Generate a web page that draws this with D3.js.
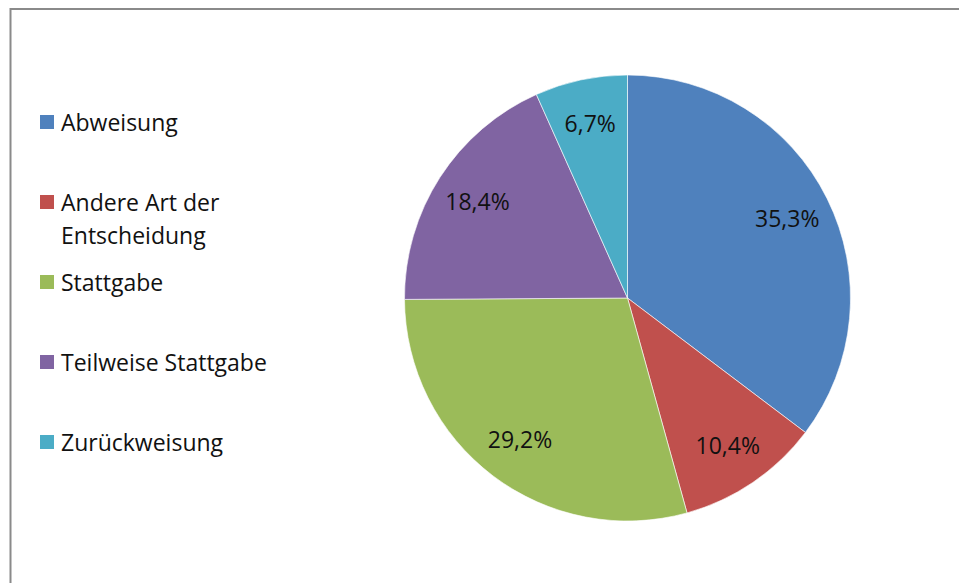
<!DOCTYPE html>
<html>
<head>
<meta charset="utf-8">
<script src="https://cdn.jsdelivr.net/npm/d3@7"></script>
<style>
  html, body { margin: 0; padding: 0; background: #fff; }
  svg { display: block; }
</style>
</head>
<body>
<div id="graph"></div>
<script>
/*******************************************************************************
* Data
*******************************************************************************/
var categories = ["Abweisung", "Andere Art der Entscheidung", "Stattgabe",
                  "Teilweise Stattgabe", "Zurückweisung"];
var legendLines = [["Abweisung"], ["Andere Art der", "Entscheidung"], ["Stattgabe"],
                   ["Teilweise Stattgabe"], ["Zurückweisung"]];
var shares = [35.3, 10.4, 29.2, 18.4, 6.7];
var colors = ["#4F81BD", "#C0504D", "#9BBB59", "#8064A2", "#4BACC6"];

/*******************************************************************************
* Svg Container
*******************************************************************************/
var fullWidth = 959;
var fullHeight = 583;
var font = "'Open Sans', 'Noto Sans', sans-serif";

var container = d3.select("#graph").append("svg")
  .attr("width", fullWidth)
  .attr("height", fullHeight);

// chart frame (runs off the right and bottom edges)
container.append("rect")
  .attr("x", 10.5)
  .attr("y", 9)
  .attr("width", 1000)
  .attr("height", 700)
  .style("fill", "none")
  .style("stroke", "#8a8a8a")
  .style("stroke-width", 2);

/*******************************************************************************
* pie
*******************************************************************************/
var radius = 223;
var pieGroup = container.append("g")
  .attr("transform", "translate(627.5,298)");

var pie = d3.pie().sort(null).value(function (d) { return d; });
var arc = d3.arc().innerRadius(0).outerRadius(radius);
var labelArc = d3.arc().innerRadius(radius * 0.8).outerRadius(radius * 0.8);

var slices = pieGroup.selectAll("g.slice")
  .data(pie(shares))
  .enter()
  .append("g")
  .attr("class", "slice");

slices.append("path")
  .attr("d", arc)
  .style("fill", function (d, i) { return colors[i]; })
  .style("stroke", "#fff")
  .style("stroke-opacity", 0.6)
  .style("stroke-width", 1);

slices.append("text")
  .attr("transform", function (d) {
    var c = labelArc.centroid(d);
    return "translate(" + c[0] + "," + c[1] + ")";
  })
  .attr("text-anchor", "middle")
  .attr("dy", "0.35em")
  .style("font-family", font)
  .style("font-size", "23px")
  .style("fill", "#111")
  .text(function (d) { return d.data.toFixed(1).replace(".", ",") + "%"; });

/*******************************************************************************
* legend
*******************************************************************************/
var legend = container.append("g")
  .attr("transform", "translate(40,0)");

var items = legend.selectAll("g.item")
  .data(categories)
  .enter()
  .append("g")
  .attr("class", "item")
  .attr("transform", function (d, i) { return "translate(0," + (131 + i * 80) + ")"; });

items.append("rect")
  .attr("x", 0)
  .attr("y", -16)
  .attr("width", 14)
  .attr("height", 14)
  .style("fill", function (d, i) { return colors[i]; });

items.append("text")
  .attr("x", 21)
  .style("font-family", font)
  .style("font-size", "23px")
  .style("fill", "#111")
  .selectAll("tspan")
  .data(function (d, i) { return legendLines[i]; })
  .enter()
  .append("tspan")
  .attr("x", 21)
  .attr("dy", function (d, j) { return j === 0 ? 0 : 33; })
  .text(function (d) { return d; });
</script>
</body>
</html>
